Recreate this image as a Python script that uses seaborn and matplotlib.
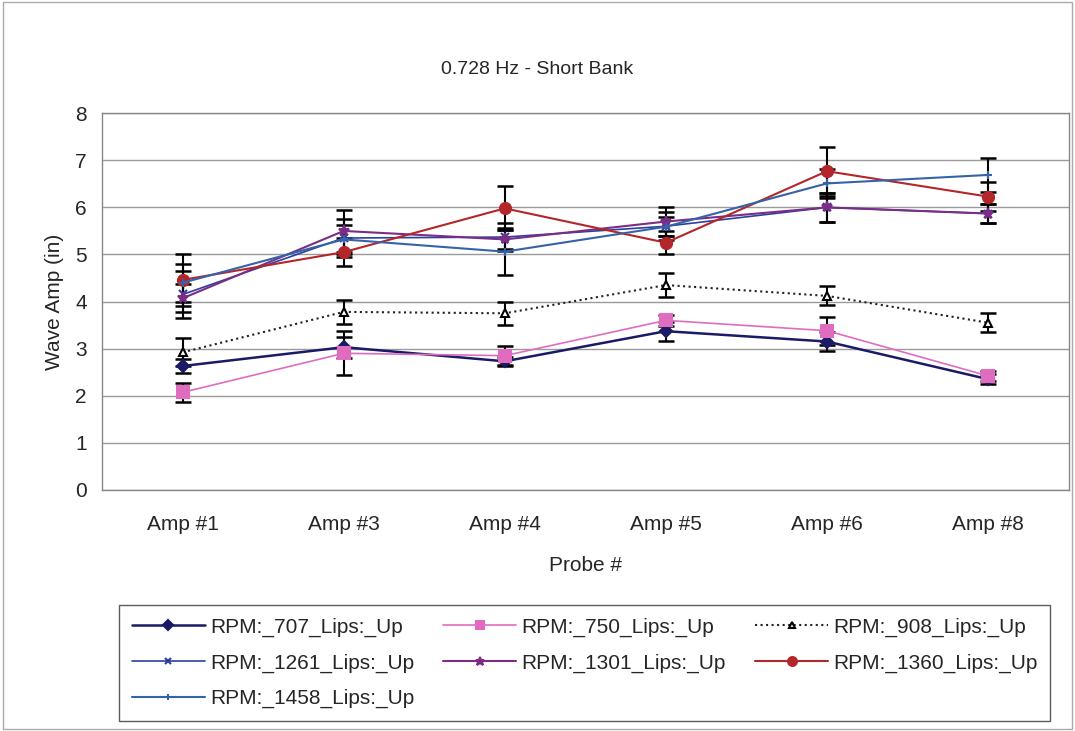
import numpy as np
import pandas as pd
import matplotlib
matplotlib.use('Agg')
import matplotlib.pyplot as plt
import seaborn as sns
from matplotlib.patches import Rectangle

# Data
probes = ['Amp #1', 'Amp #3', 'Amp #4', 'Amp #5', 'Amp #6', 'Amp #8']

rpm_707 = [2.63, 3.03, 2.73, 3.37, 3.15, 2.35]
rpm_750 = [2.07, 2.90, 2.85, 3.60, 3.38, 2.42]
rpm_908 = [2.92, 3.78, 3.75, 4.35, 4.12, 3.55]
rpm_1261 = [4.15, 5.35, 5.37, 5.60, 6.00, 5.87]
rpm_1301 = [4.07, 5.50, 5.32, 5.70, 6.00, 5.87]
rpm_1360 = [4.46, 5.05, 5.98, 5.25, 6.77, 6.23]
rpm_1458 = [4.40, 5.32, 5.06, 5.59, 6.51, 6.69]

err_707 = [0.15, 0.22, 0.10, 0.20, 0.20, 0.10]
err_750 = [0.20, 0.47, 0.20, 0.12, 0.30, 0.10]
err_908 = [0.30, 0.25, 0.25, 0.25, 0.20, 0.20]
err_1261 = [0.50, 0.40, 0.30, 0.30, 0.30, 0.20]
err_1301 = [0.30, 0.45, 0.20, 0.30, 0.30, 0.20]
err_1360 = [0.55, 0.30, 0.47, 0.25, 0.52, 0.30]
err_1458 = [0.40, 0.30, 0.50, 0.20, 0.30, 0.37]

labels = ['RPM:_707_Lips:_Up', 'RPM:_750_Lips:_Up', 'RPM:_908_Lips:_Up',
          'RPM:_1261_Lips:_Up', 'RPM:_1301_Lips:_Up', 'RPM:_1360_Lips:_Up',
          'RPM:_1458_Lips:_Up']
values = [rpm_707, rpm_750, rpm_908, rpm_1261, rpm_1301, rpm_1360, rpm_1458]
errors = [err_707, err_750, err_908, err_1261, err_1301, err_1360, err_1458]

colors = ['#1a1a66', '#e06cc0', '#222222', '#2b3fa0', '#7b2d86', '#b3262a', '#3563a8']
markers = ['D', 's', '^', 'x', '*', 'o', '+']
styles = ['-', '-', ':', '-', '-', '-', '-']
widths = [1.8, 1.2, 1.5, 1.2, 1.5, 1.5, 1.5]

sns.set_style('white')
plt.rcParams['font.family'] = ['Liberation Sans', 'DejaVu Sans']

fig = plt.figure(figsize=(10.75, 7.31), dpi=100)
ax = fig.add_axes([0.095, 0.33, 0.899, 0.515])

x = np.arange(len(probes))
for lab, vals, errs, c, m, ls, lw in zip(labels, values, errors, colors, markers, styles, widths):
    df = pd.DataFrame({'x': x, 'y': vals})
    ax.errorbar(x, vals, yerr=errs, fmt='none', ecolor='black', elinewidth=1.5,
                capsize=6, capthick=1.8, zorder=2)
    mfc = 'white' if m == '^' else c
    mec = 'black' if m == '^' else c
    ms = 8 if m in ('s', 'o', '*') else 6
    sns.lineplot(data=df, x='x', y='y', ax=ax, color=c, linestyle=ls, linewidth=lw,
                 marker=m, markersize=ms, markerfacecolor=mfc, markeredgecolor=mec,
                 markeredgewidth=1.5, label=lab, legend=False, zorder=3)

ax.set_xlim(-0.5, 5.5)
ax.set_ylim(0, 8)
ax.set_yticks(range(0, 9))
ax.set_xticks(x)
ax.set_xticklabels(probes)
# category boundary ticks like a spreadsheet chart
ax.set_xticks(np.arange(-0.5, 6.0, 1.0), minor=True)
ax.tick_params(axis='x', which='major', length=0, labelsize=15, pad=18)
ax.tick_params(axis='x', which='minor', length=5, color='#777777')
ax.tick_params(axis='y', labelsize=15, length=5, direction='out', color='#777777', pad=6)
ax.yaxis.grid(True, color='#9a9a9a', linewidth=1)
ax.set_axisbelow(True)
for s in ax.spines.values():
    s.set_color('#888888')
    s.set_linewidth(1)
ax.set_xlabel('Probe #', fontsize=15, labelpad=16)
ax.set_ylabel('Wave Amp (in)', fontsize=15, labelpad=8)
fig.text(0.5, 0.905, '0.728 Hz - Short Bank', ha='center', va='center', fontsize=14)

# legend filled row by row, three per row
handles, labs = ax.get_legend_handles_labels()
order = [0, 3, 6, 1, 4, 2, 5]
leg = fig.legend([handles[i] for i in order], [labs[i] for i in order], ncol=3,
                 loc='lower left', mode='expand',
                 bbox_to_anchor=(0.107, 0.008, 0.874, 0.172), fontsize=15,
                 frameon=True, fancybox=False, edgecolor='#333333',
                 handlelength=3.5, handletextpad=0.25, borderaxespad=0.2,
                 labelspacing=0.8, columnspacing=0.3, borderpad=0.6, markerscale=0.8)
leg.get_frame().set_linewidth(1)

fig.add_artist(Rectangle((0.003, 0.003), 0.994, 0.994, transform=fig.transFigure,
                         fill=False, edgecolor='#aaaaaa', linewidth=1))

fig.savefig('out.png', dpi=100)
